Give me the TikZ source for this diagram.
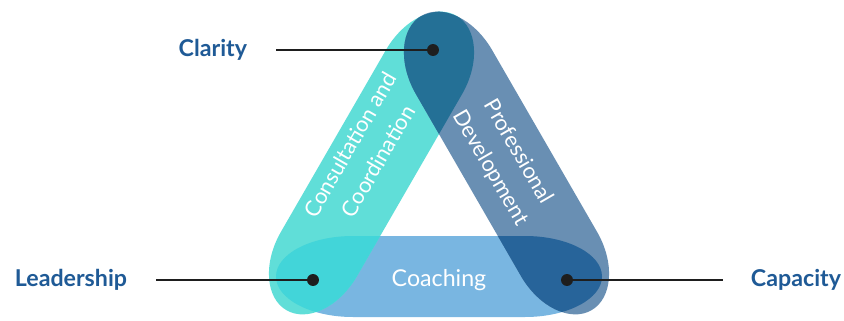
\documentclass[tikz,border=0pt]{standalone}
\usepackage{fontspec}
\setmainfont{Lato}
\usepackage{tikz}

\definecolor{coachc}{RGB}{121,182,225}
\definecolor{tealc}{RGB}{96,222,216}
\definecolor{slatec}{RGB}{105,143,179}
\definecolor{tealcoachc}{RGB}{66,213,217}
\definecolor{tealslatec}{RGB}{36,112,150}
\definecolor{slatecoachc}{RGB}{39,100,154}
\definecolor{labelc}{RGB}{31,90,150}
\definecolor{linec}{RGB}{30,30,30}

% bands in local coordinates (axis along x)
\def\coachband{(-86,40.5) -- (86,40.5) arc[start angle=90,end angle=-90,x radius=77,y radius=40.5]
	-- (-86,-40.5) arc[start angle=270,end angle=90,x radius=77,y radius=40.5] -- cycle}
\def\sideband{(-105,44) -- (105,44) arc[start angle=90,end angle=-90,x radius=65,y radius=44]
	-- (-105,-44) arc[start angle=270,end angle=90,x radius=65,y radius=44] -- cycle}

\tikzset{
	coachpos/.style={shift={(439,43.5)}},
	tealpos/.style={shift={(371.5,157)},rotate=60},
	slatepos/.style={shift={(506.5,157)},rotate=-60},
	bandtext/.style={text=white,font=\fontsize{15.5}{23}\selectfont,align=center},
	pointer/.style={circle,fill=linec,inner sep=0pt,minimum size=8.5pt},
	leader/.style={draw=linec,line width=1.4pt},
	tag/.style={text=labelc,font=\fontsize{16.5}{20}\selectfont\bfseries}
}

\begin{document}
\begin{tikzpicture}[x=0.25mm,y=0.25mm]
		\useasboundingbox (0,0) rectangle (844,320);
		\fill[white] (0,0) rectangle (844,320);

		% the three bands
		\fill[coachc,coachpos] \coachband;
		\fill[tealc,tealpos] \sideband;
		\fill[slatec,slatepos] \sideband;

		% overlaps
		\begin{scope}
			\clip[coachpos] \coachband;
			\fill[tealcoachc,tealpos] \sideband;
		\end{scope}
		\begin{scope}
			\clip[tealpos] \sideband;
			\fill[tealslatec,slatepos] \sideband;
		\end{scope}
		\begin{scope}
			\clip[coachpos] \coachband;
			\fill[slatecoachc,slatepos] \sideband;
		\end{scope}

		% band texts
		\node[bandtext,font=\fontsize{16.5}{20}\selectfont] (coaching) at (439,40) {Coaching};
		\node[bandtext,rotate=60] (consult) at (364,167) {Consultation and\\Coordination};
		\node[bandtext,rotate=-60] (profdev) at (504,160) {Professional\\Development};

		% pointers and labels
		\node[pointer] (clarityDot) at (433,270) {};
		\node[pointer] (leaderDot) at (313,40) {};
		\node[pointer] (capacityDot) at (567,40) {};

		\node[tag,anchor=east] (clarity) at (252,270) {Clarity};
		\node[tag,anchor=east] (leadership) at (132,40) {Leadership};
		\node[tag,anchor=west] (capacity) at (746,40) {Capacity};

		\coordinate (clarityEnd) at (276,270);
		\coordinate (leaderEnd) at (156,40);
		\coordinate (capacityEnd) at (723,40);

		\draw[leader] (clarityEnd) -- (clarityDot.center);
		\draw[leader] (leaderEnd) -- (leaderDot.center);
		\draw[leader] (capacityDot.center) -- (capacityEnd);
\end{tikzpicture}
\end{document}
